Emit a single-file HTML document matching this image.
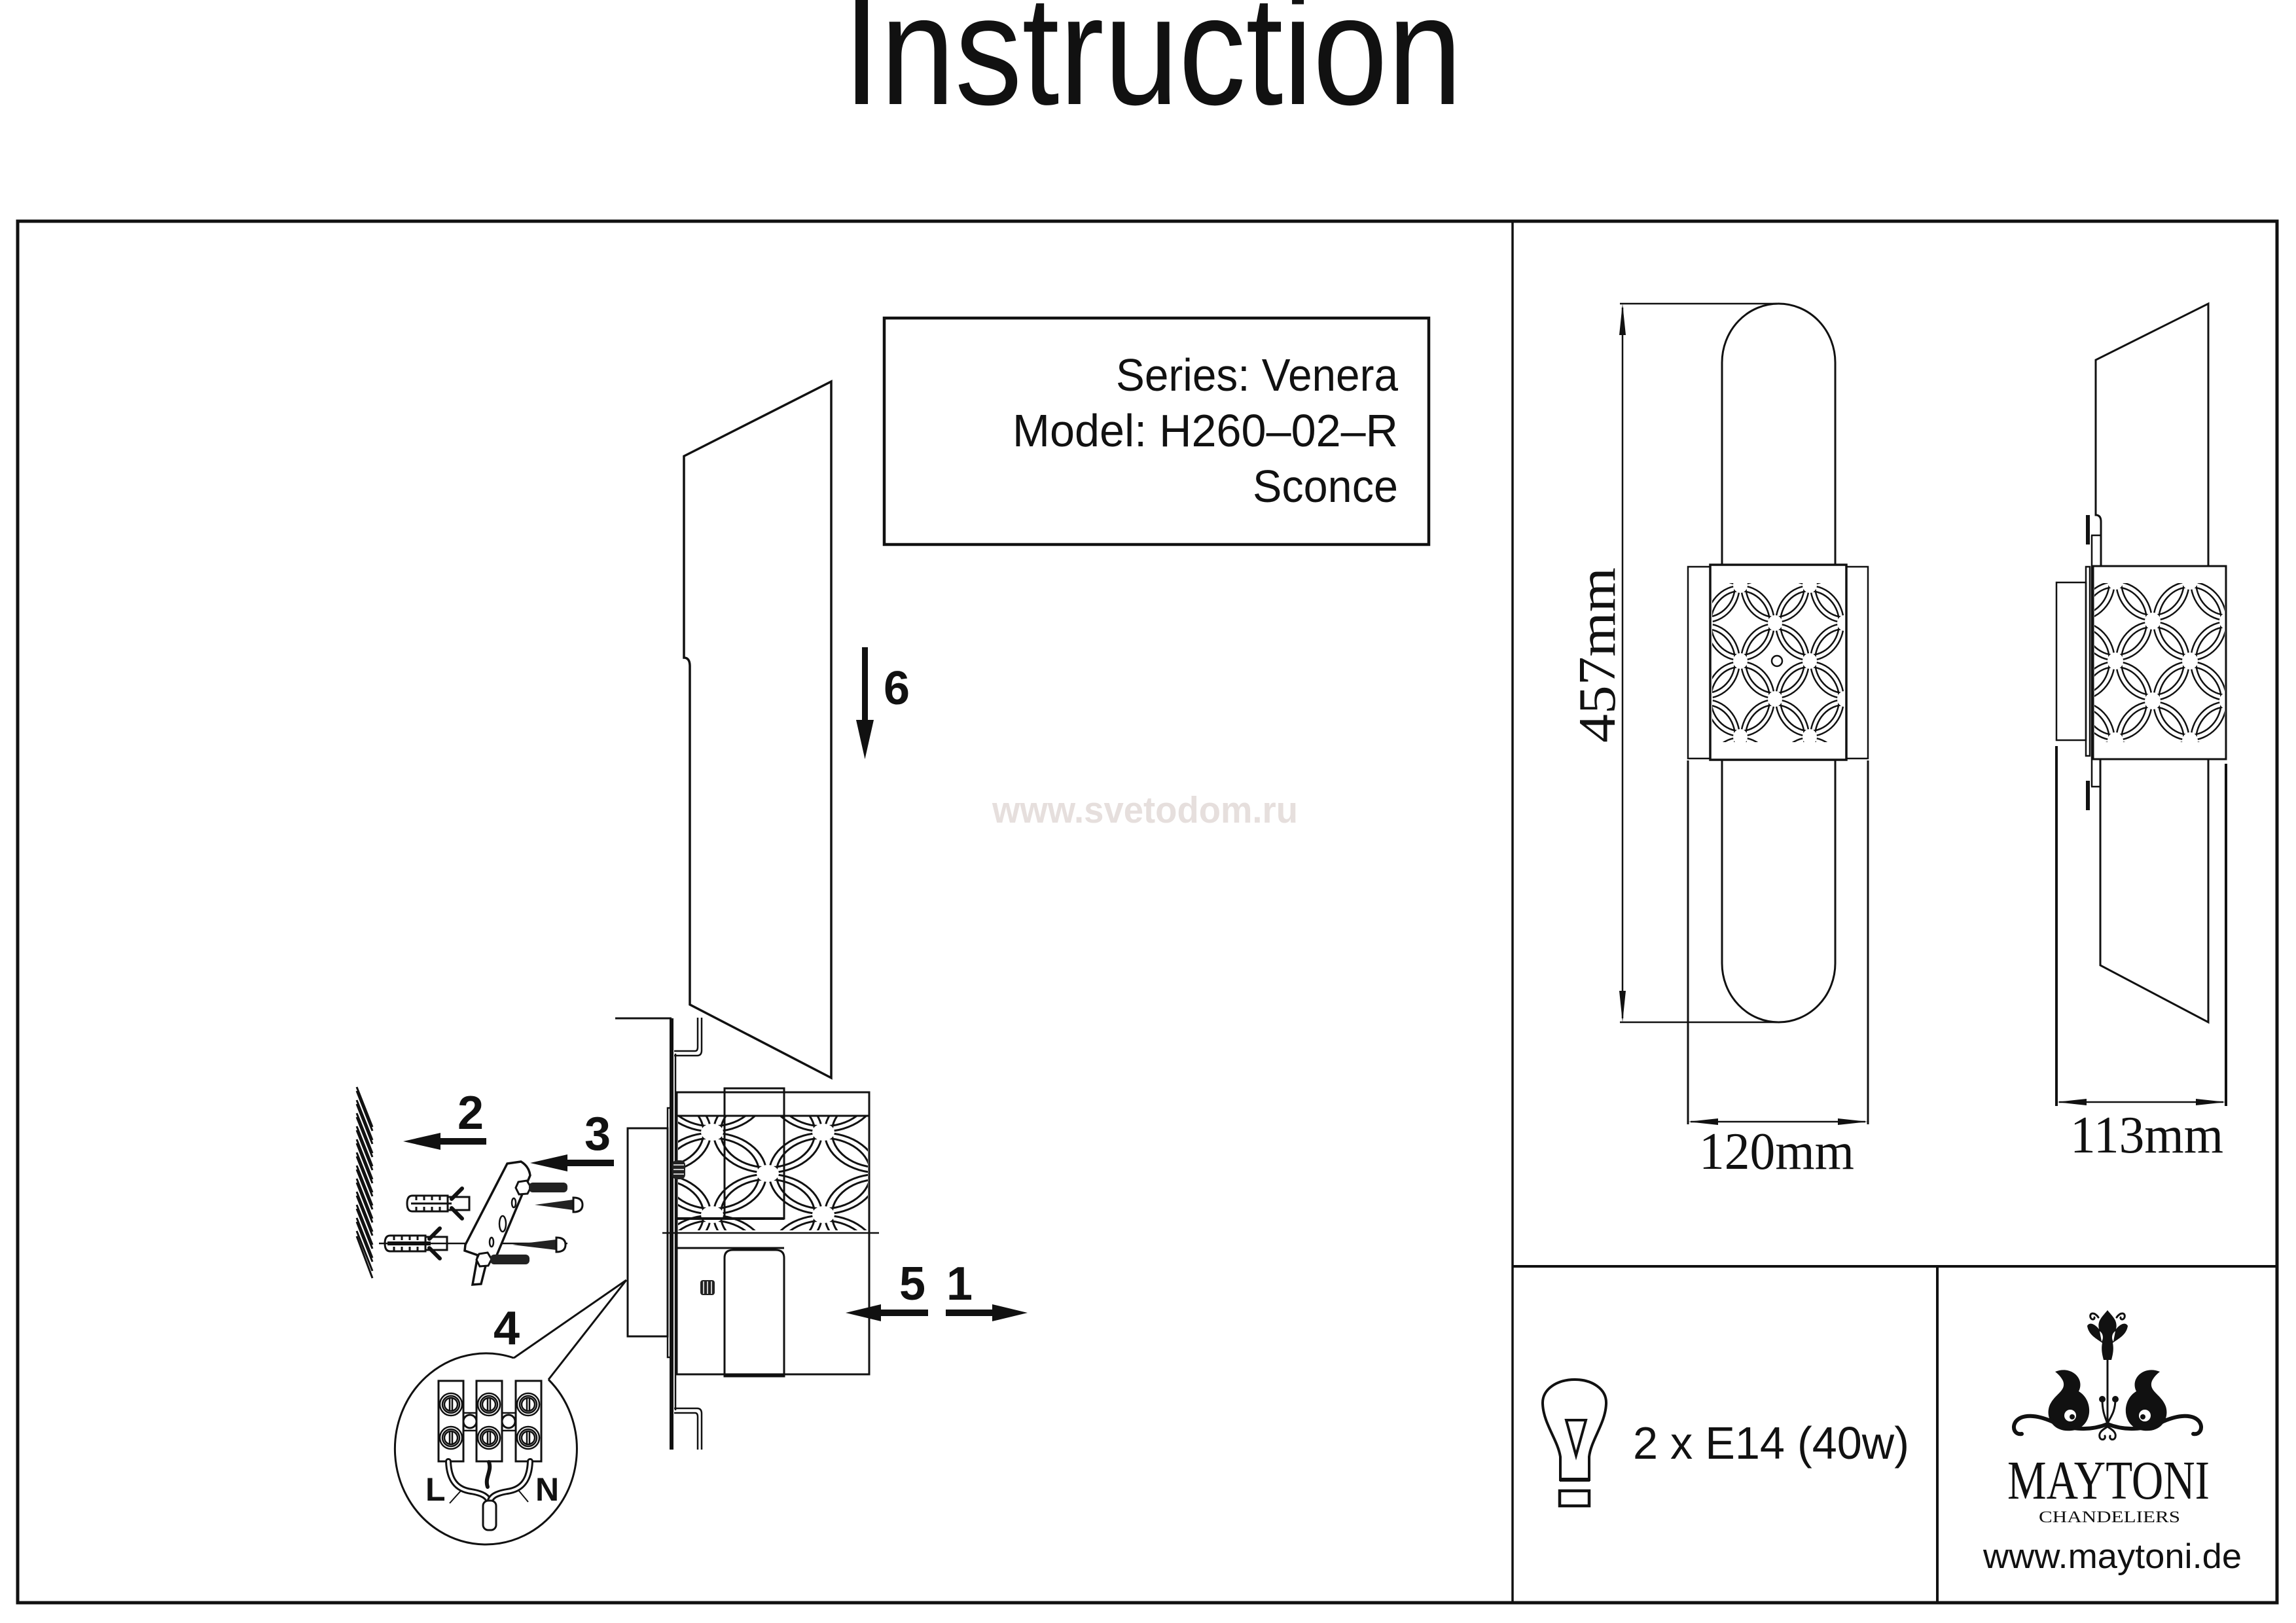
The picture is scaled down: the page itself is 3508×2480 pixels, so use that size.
<!DOCTYPE html>
<html><head><meta charset="utf-8"><style>
html,body{margin:0;padding:0;background:#fff;}
svg{display:block;}
text{font-family:"Liberation Sans",Arial,sans-serif;}
.serif{font-family:"Liberation Serif","Times New Roman",serif;}
</style></head><body>
<svg xmlns="http://www.w3.org/2000/svg" width="3508" height="2480" viewBox="0 0 3508 2480">
<defs>
<pattern id="pL" patternUnits="userSpaceOnUse" x="1088" y="1793" width="170" height="126">
 <g fill="none" stroke="#111" stroke-width="3">
  <ellipse cx="0" cy="0" rx="83" ry="62"/><ellipse cx="170" cy="0" rx="83" ry="62"/><ellipse cx="0" cy="126" rx="83" ry="62"/><ellipse cx="170" cy="126" rx="83" ry="62"/><ellipse cx="85" cy="63" rx="83" ry="62"/>
  <ellipse cx="0" cy="0" rx="72" ry="54"/><ellipse cx="170" cy="0" rx="72" ry="54"/><ellipse cx="0" cy="126" rx="72" ry="54"/><ellipse cx="170" cy="126" rx="72" ry="54"/><ellipse cx="85" cy="63" rx="72" ry="54"/>
 </g>
 <g fill="#fff"><ellipse cx="85" cy="0" rx="17" ry="13"/><ellipse cx="0" cy="63" rx="17" ry="13"/><ellipse cx="170" cy="63" rx="17" ry="13"/><ellipse cx="85" cy="126" rx="17" ry="13"/></g>
</pattern>
<pattern id="pF" patternUnits="userSpaceOnUse" x="2712" y="1010" width="106" height="116">
 <g fill="none" stroke="#111" stroke-width="2.5">
  <ellipse cx="0" cy="0" rx="52" ry="57"/><ellipse cx="106" cy="0" rx="52" ry="57"/><ellipse cx="0" cy="116" rx="52" ry="57"/><ellipse cx="106" cy="116" rx="52" ry="57"/><ellipse cx="53" cy="58" rx="52" ry="57"/>
  <ellipse cx="0" cy="0" rx="45" ry="49"/><ellipse cx="106" cy="0" rx="45" ry="49"/><ellipse cx="0" cy="116" rx="45" ry="49"/><ellipse cx="106" cy="116" rx="45" ry="49"/><ellipse cx="53" cy="58" rx="45" ry="49"/>
 </g>
 <g fill="#fff"><ellipse cx="53" cy="0" rx="11" ry="12"/><ellipse cx="0" cy="58" rx="11" ry="12"/><ellipse cx="106" cy="58" rx="11" ry="12"/><ellipse cx="53" cy="116" rx="11" ry="12"/></g>
</pattern>
<pattern id="pS" patternUnits="userSpaceOnUse" x="3289" y="1010" width="114" height="122">
 <g fill="none" stroke="#111" stroke-width="2.5">
  <ellipse cx="0" cy="0" rx="56" ry="60"/><ellipse cx="114" cy="0" rx="56" ry="60"/><ellipse cx="0" cy="122" rx="56" ry="60"/><ellipse cx="114" cy="122" rx="56" ry="60"/><ellipse cx="57" cy="61" rx="56" ry="60"/>
  <ellipse cx="0" cy="0" rx="48" ry="52"/><ellipse cx="114" cy="0" rx="48" ry="52"/><ellipse cx="0" cy="122" rx="48" ry="52"/><ellipse cx="114" cy="122" rx="48" ry="52"/><ellipse cx="57" cy="61" rx="48" ry="52"/>
 </g>
 <g fill="#fff"><ellipse cx="57" cy="0" rx="12" ry="13"/><ellipse cx="0" cy="61" rx="12" ry="13"/><ellipse cx="114" cy="61" rx="12" ry="13"/><ellipse cx="57" cy="122" rx="12" ry="13"/></g>
</pattern>
</defs>

<!-- Title -->
<text x="1288" y="159" font-size="238" textLength="946" lengthAdjust="spacingAndGlyphs" fill="#111">Instruction</text>

<!-- Frame -->
<rect x="27" y="338" width="3452" height="2111" fill="none" stroke="#111" stroke-width="5"/>
<line x1="2311" y1="338" x2="2311" y2="2449" stroke="#111" stroke-width="3.5"/>
<line x1="2311" y1="1935" x2="3479" y2="1935" stroke="#111" stroke-width="4"/>
<line x1="2960" y1="1935" x2="2960" y2="2449" stroke="#111" stroke-width="4"/>

<!-- Info box -->
<rect x="1351" y="486" width="832" height="346" fill="none" stroke="#111" stroke-width="4.5"/>
<text x="1705" y="597" font-size="70" textLength="431" lengthAdjust="spacingAndGlyphs" fill="#111">Series: Venera</text>
<text x="1547" y="682" font-size="70" textLength="589" lengthAdjust="spacingAndGlyphs" fill="#111">Model: H260–02–R</text>
<text x="1914" y="767" font-size="70" textLength="222" lengthAdjust="spacingAndGlyphs" fill="#111">Sconce</text>

<!-- Watermark -->
<text x="1516" y="1257" font-size="57" font-weight="bold" textLength="467" lengthAdjust="spacingAndGlyphs" fill="#e6dfdd">www.svetodom.ru</text>

<!-- ===== Left assembly drawing ===== -->
<g fill="none" stroke="#111" stroke-width="3.5" stroke-linejoin="miter">
 <path d="M1045,697 L1270,583 L1270,1647 L1054,1535 L1054,1018 Q1054,1005 1045,1005 Z" fill="#fff"/>
 <line x1="940" y1="1556" x2="1026" y2="1556" stroke-width="3"/>
 <line x1="1026" y1="1556" x2="1026" y2="2215" stroke-width="6"/>
 <line x1="1032" y1="1610" x2="1032" y2="2155" stroke-width="2.5"/>
 <path d="M1030,1606 L1062,1606 Q1066,1606 1066,1600 L1066,1555" stroke-width="2.5"/>
 <path d="M1030,1613 L1065,1613 Q1072,1613 1072,1605 L1072,1555" stroke-width="2.5"/>
 <path d="M1030,2152 L1065,2152 Q1072,2152 1072,2160 L1072,2215" stroke-width="2.5"/>
 <path d="M1030,2159 L1062,2159 Q1066,2159 1066,2165 L1066,2215" stroke-width="2.5"/>
 <rect x="959" y="1724" width="61" height="318" stroke-width="3"/>
 <rect x="1020" y="1693" width="6" height="381" stroke-width="2.5"/>
 <rect x="1034" y="1669" width="294" height="431" fill="#fff" stroke-width="3"/>
</g>
<rect x="1036" y="1705" width="290" height="175" fill="url(#pL)"/>
<g fill="none" stroke="#111" stroke-width="3">
 <line x1="1034" y1="1705" x2="1328" y2="1705"/>
 <rect x="1107" y="1663" width="91" height="199" />
 <line x1="1034" y1="1862" x2="1198" y2="1862" stroke-width="4"/>
 <line x1="1034" y1="1907" x2="1198" y2="1907"/>
 <path d="M1107,2103 L1107,1922 Q1107,1910 1120,1910 L1185,1910 Q1198,1910 1198,1922 L1198,2103 Z" fill="#fff"/>
 <line x1="1012" y1="1884" x2="1343" y2="1884" stroke-width="2.5"/>
 <rect x="1034" y="1669" width="294" height="431" stroke-width="3"/>
</g>
<rect x="1027" y="1773" width="20" height="29" rx="7" fill="#222"/>
<g stroke="#fff" stroke-width="1.5"><line x1="1029" y1="1780" x2="1045" y2="1780"/><line x1="1029" y1="1787" x2="1045" y2="1787"/><line x1="1029" y1="1794" x2="1045" y2="1794"/></g>
<rect x="1070" y="1956" width="22" height="23" rx="4" fill="#222"/>
<g stroke="#fff" stroke-width="1.5"><line x1="1075" y1="1958" x2="1075" y2="1977"/><line x1="1081" y1="1958" x2="1081" y2="1977"/><line x1="1087" y1="1958" x2="1087" y2="1977"/></g>

<!-- wall hatch -->
<g stroke="#111" stroke-width="3">
 <line x1="545" y1="1661" x2="569" y2="1722"/><line x1="545" y1="1667" x2="569" y2="1728"/>
 <line x1="545" y1="1681" x2="569" y2="1742"/><line x1="545" y1="1687" x2="569" y2="1748"/>
 <line x1="545" y1="1701" x2="569" y2="1762"/><line x1="545" y1="1707" x2="569" y2="1768"/>
 <line x1="545" y1="1721" x2="569" y2="1782"/><line x1="545" y1="1727" x2="569" y2="1788"/>
 <line x1="545" y1="1741" x2="569" y2="1802"/><line x1="545" y1="1747" x2="569" y2="1808"/>
 <line x1="545" y1="1761" x2="569" y2="1822"/><line x1="545" y1="1767" x2="569" y2="1828"/>
 <line x1="545" y1="1781" x2="569" y2="1842"/><line x1="545" y1="1787" x2="569" y2="1848"/>
 <line x1="545" y1="1801" x2="569" y2="1862"/><line x1="545" y1="1807" x2="569" y2="1868"/>
 <line x1="545" y1="1821" x2="569" y2="1882"/><line x1="545" y1="1827" x2="569" y2="1888"/>
 <line x1="545" y1="1841" x2="569" y2="1902"/><line x1="545" y1="1847" x2="569" y2="1908"/>
 <line x1="545" y1="1861" x2="569" y2="1922"/><line x1="545" y1="1867" x2="569" y2="1928"/>
 <line x1="545" y1="1881" x2="569" y2="1942"/><line x1="545" y1="1889" x2="569" y2="1953"/>
</g>

<!-- arrows -->
<g fill="#111">
 <polygon points="616,1744 673,1731 673,1757"/><rect x="670" y="1739" width="73" height="10"/>
 <polygon points="810,1777 867,1764 867,1790"/><rect x="864" y="1772" width="74" height="10"/>
 <polygon points="1292,2006 1346,1993 1346,2019"/><rect x="1343" y="2001" width="75" height="10"/>
 <polygon points="1570,2006 1516,1993 1516,2019"/><rect x="1445" y="2001" width="74" height="10"/>
 <rect x="1317" y="989" width="9" height="113"/><polygon points="1308,1100 1335,1100 1321.5,1160"/>
</g>
<g font-size="72" font-weight="bold" fill="#111">
 <text x="699" y="1725">2</text>
 <text x="893" y="1757">3</text>
 <text x="754" y="2054">4</text>
 <text x="1374" y="1986">5</text>
 <text x="1446" y="1986">1</text>
 <text x="1350" y="1076">6</text>
</g>

<!-- dowels -->
<g fill="#fff" stroke="#111" stroke-width="3">
 <path d="M684,1829 L717,1829 L717,1849 L684,1849"/>
 <path d="M690,1832 L706,1816 M690,1846 L706,1862" stroke-width="6" stroke-linecap="round"/>
 <path d="M630,1827 L684,1827 L684,1851 L630,1851 Q622,1851 622,1839 Q622,1827 630,1827 Z"/>
 <path d="M636,1827 v7 M648,1827 v7 M660,1827 v7 M672,1827 v7 M636,1851 v-7 M648,1851 v-7 M660,1851 v-7 M672,1851 v-7" stroke-width="3"/>
 <line x1="628" y1="1839" x2="690" y2="1839" stroke-width="3"/>
 <path d="M650,1890 L683,1890 L683,1910 L650,1910"/>
 <path d="M656,1893 L672,1877 M656,1907 L672,1923" stroke-width="6" stroke-linecap="round"/>
 <path d="M596,1888 L650,1888 L650,1912 L596,1912 Q588,1912 588,1900 Q588,1888 596,1888 Z"/>
 <path d="M602,1888 v7 M614,1888 v7 M626,1888 v7 M638,1888 v7 M602,1912 v-7 M614,1912 v-7 M626,1912 v-7 M638,1912 v-7"/>
</g>
<rect x="592" y="1897" width="66" height="6" fill="#111"/>
<line x1="579" y1="1900" x2="867" y2="1900" stroke="#111" stroke-width="2.5"/>
<!-- mounting plate -->
<path d="M775,1778 L796,1775 Q808,1782 810,1796 L756,1925 L744,1926 L735,1962 L722,1963 L730,1918 L710,1911 L711,1902 Z" fill="#fff" stroke="#111" stroke-width="3.5"/>
<ellipse cx="768" cy="1870" rx="5" ry="12" fill="none" stroke="#111" stroke-width="2.5"/>
<ellipse cx="785" cy="1838" rx="3" ry="7" fill="none" stroke="#111" stroke-width="2.5"/>
<ellipse cx="751" cy="1898" rx="3" ry="7" fill="none" stroke="#111" stroke-width="2.5"/>
<!-- bolts -->
<polygon points="792,1806 805,1804 811,1814 806,1824 793,1825 788,1815" fill="#fff" stroke="#111" stroke-width="3"/>
<rect x="808" y="1807" width="59" height="15" rx="6" fill="#222"/>
<polygon points="732,1916 745,1914 751,1924 746,1934 733,1935 728,1925" fill="#fff" stroke="#111" stroke-width="3"/>
<rect x="749" y="1917" width="60" height="15" rx="6" fill="#222"/>
<!-- screws -->
<path d="M817,1841 L876,1833 L876,1849 Z" fill="#222"/><path d="M876,1830 Q890,1830 890,1841 Q890,1852 876,1852 Z" fill="#fff" stroke="#111" stroke-width="3"/>
<path d="M783,1902 L850,1894 L850,1910 Z" fill="#222"/><path d="M850,1891 Q864,1891 864,1902 Q864,1913 850,1913 Z" fill="#fff" stroke="#111" stroke-width="3"/>

<!-- wiring callout -->
<g fill="none" stroke="#111" stroke-width="3">
 <path d="M838,2108 A139,146 0 1 1 785,2075"/>
 <line x1="785" y1="2075" x2="957" y2="1956"/>
 <line x1="838" y1="2108" x2="957" y2="1956"/>
 <rect x="670" y="2110" width="38" height="123" fill="#fff"/>
 <rect x="728" y="2110" width="39" height="123" fill="#fff"/>
 <rect x="788" y="2110" width="39" height="123" fill="#fff"/>
 <path d="M708,2159 L728,2159 M708,2186 L728,2186 M767,2159 L788,2159 M767,2186 L788,2186" stroke-width="2.5"/>
 <circle cx="718" cy="2172" r="10"/><circle cx="777" cy="2172" r="10"/>
</g>
<g fill="#fff" stroke="#111" stroke-width="2.5">
 <circle cx="689" cy="2146" r="17"/><circle cx="689" cy="2146" r="13"/><circle cx="689" cy="2146" r="10"/>
 <circle cx="747" cy="2146" r="17"/><circle cx="747" cy="2146" r="13"/><circle cx="747" cy="2146" r="10"/>
 <circle cx="807" cy="2146" r="17"/><circle cx="807" cy="2146" r="13"/><circle cx="807" cy="2146" r="10"/>
 <circle cx="689" cy="2197" r="17"/><circle cx="689" cy="2197" r="13"/><circle cx="689" cy="2197" r="10"/>
 <circle cx="747" cy="2197" r="17"/><circle cx="747" cy="2197" r="13"/><circle cx="747" cy="2197" r="10"/>
 <circle cx="807" cy="2197" r="17"/><circle cx="807" cy="2197" r="13"/><circle cx="807" cy="2197" r="10"/>
 <path d="M687,2136 v20 M691,2136 v20 M745,2136 v20 M749,2136 v20 M805,2136 v20 M809,2136 v20 M687,2187 v20 M691,2187 v20 M745,2187 v20 M749,2187 v20 M805,2187 v20 M809,2187 v20" fill="none"/>
</g>
<g fill="none" stroke-linecap="round">
 <path d="M685,2233 C686,2262 698,2276 720,2279 C738,2282 746,2287 748,2297" stroke="#111" stroke-width="10"/>
 <path d="M685,2233 C686,2262 698,2276 720,2279 C738,2282 746,2287 748,2297" stroke="#fff" stroke-width="4"/>
 <path d="M810,2233 C809,2262 797,2276 775,2279 C757,2282 749,2287 748,2297" stroke="#111" stroke-width="10"/>
 <path d="M810,2233 C809,2262 797,2276 775,2279 C757,2282 749,2287 748,2297" stroke="#fff" stroke-width="4"/>
 <path d="M747,2234 C752,2248 740,2258 745,2272" stroke="#111" stroke-width="6"/>
</g>
<rect x="738" y="2293" width="20" height="45" rx="8" fill="#fff" stroke="#111" stroke-width="3"/>
<line x1="687" y1="2297" x2="705" y2="2277" stroke="#111" stroke-width="2"/>
<line x1="807" y1="2295" x2="792" y2="2277" stroke="#111" stroke-width="2"/>
<text x="650" y="2293" font-size="50" font-weight="bold" fill="#111">L</text>
<text x="818" y="2293" font-size="50" font-weight="bold" fill="#111">N</text>

<!-- ===== Front view ===== -->
<g fill="none" stroke="#111" stroke-width="3">
 <rect x="2631" y="464" width="173" height="1098" rx="87" ry="90"/>
 <line x1="2475" y1="464" x2="2715" y2="464" stroke-width="2.5"/>
 <line x1="2475" y1="1562" x2="2715" y2="1562" stroke-width="2.5"/>
 <line x1="2479" y1="470" x2="2479" y2="1556" stroke-width="2.5"/>
 <line x1="2579" y1="1162" x2="2579" y2="1718" stroke-width="3"/>
 <line x1="2854" y1="1162" x2="2854" y2="1718" stroke-width="3"/>
 <line x1="2583" y1="1714" x2="2850" y2="1714" stroke-width="2.5"/>
</g>
<g fill="#111">
 <polygon points="2479,464 2474,512 2484,512"/>
 <polygon points="2479,1562 2474,1514 2484,1514"/>
 <polygon points="2579,1714 2625,1709 2625,1719"/>
 <polygon points="2854,1714 2808,1709 2808,1719"/>
</g>
<rect x="2579" y="866" width="275" height="293" fill="#fff" stroke="#111" stroke-width="2.5"/>
<rect x="2613" y="863" width="208" height="298" fill="#fff" stroke="#111" stroke-width="3.5"/>
<rect x="2616" y="891" width="202" height="243" fill="url(#pF)"/>
<circle cx="2715" cy="1010" r="8" fill="#fff" stroke="#111" stroke-width="2.5"/>
<text class="serif" transform="translate(2467,1135) rotate(-90)" font-size="80" textLength="268" lengthAdjust="spacingAndGlyphs" fill="#111">457mm</text>
<text class="serif" x="2596" y="1786" font-size="80" textLength="237" lengthAdjust="spacingAndGlyphs" fill="#111">120mm</text>

<!-- ===== Side view ===== -->
<g fill="none" stroke="#111" stroke-width="3">
 <path d="M3210,867 L3210,797 Q3210,787 3202,787 L3202,550 L3374,464 L3374,1562 L3209,1475 L3209,1160" fill="#fff"/>
 <line x1="3195" y1="818" x2="3210" y2="818" stroke-width="2.5"/>
 <line x1="3195" y1="1202" x2="3210" y2="1202" stroke-width="2.5"/>
 <line x1="3196" y1="818" x2="3196" y2="1202" stroke-width="2.5"/>
 <rect x="3142" y="890" width="45" height="241" stroke-width="2.5"/>
 <rect x="3187" y="866" width="6" height="289" stroke-width="2.5"/>
 <line x1="3142" y1="1140" x2="3142" y2="1690" stroke-width="4"/>
 <line x1="3401" y1="1167" x2="3401" y2="1690" stroke-width="4"/>
 <line x1="3146" y1="1684" x2="3397" y2="1684" stroke-width="2.5"/>
</g>
<g fill="#111">
 <rect x="3187" y="787" width="6" height="45"/>
 <rect x="3187" y="1193" width="6" height="45"/>
 <polygon points="3142,1684 3188,1679 3188,1689"/>
 <polygon points="3401,1684 3355,1679 3355,1689"/>
</g>
<rect x="3198" y="865" width="203" height="295" fill="#fff" stroke="#111" stroke-width="3"/>
<rect x="3200" y="891" width="199" height="243" fill="url(#pS)"/>
<text class="serif" x="3163" y="1761" font-size="80" textLength="234" lengthAdjust="spacingAndGlyphs" fill="#111">113mm</text>

<!-- ===== Bulb box ===== -->
<path d="M2384,2261 L2384,2226 C2380,2200 2358,2175 2357,2145 C2356,2122 2380,2108 2406,2108 C2432,2108 2455,2122 2454,2145 C2453,2175 2431,2200 2428,2226 L2428,2261 Z" fill="none" stroke="#111" stroke-width="4"/>
<line x1="2383" y1="2261" x2="2429" y2="2261" stroke="#111" stroke-width="6"/>
<rect x="2383" y="2278" width="45" height="23" fill="none" stroke="#111" stroke-width="4.5"/>
<polygon points="2393,2170 2423,2170 2408,2224" fill="none" stroke="#111" stroke-width="4"/>
<text x="2495" y="2229" font-size="70" textLength="422" lengthAdjust="spacingAndGlyphs" fill="#111">2 x E14 (40w)</text>

<!-- ===== Logo ===== -->
<g fill="#111">
 <path d="M3220,2002 C3228,2012 3236,2018 3233,2031 C3240,2022 3248,2020 3251,2026 C3249,2040 3236,2046 3228,2052 C3230,2062 3228,2070 3226,2078 L3214,2078 C3212,2070 3210,2062 3212,2052 C3204,2046 3191,2040 3189,2026 C3192,2020 3200,2022 3207,2031 C3204,2018 3212,2012 3220,2002 Z"/>
 <circle cx="3212" cy="2138" r="5"/><circle cx="3232" cy="2138" r="5"/>
 <path d="M3140,2096 C3164,2086 3186,2106 3176,2126 C3200,2140 3198,2182 3165,2186 C3138,2189 3125,2168 3131,2149 C3138,2130 3158,2126 3152,2110 C3149,2104 3145,2100 3140,2096 Z"/>
 <path d="M3300,2096 C3276,2086 3254,2106 3264,2126 C3240,2140 3242,2182 3275,2186 C3302,2189 3315,2168 3309,2149 C3302,2130 3282,2126 3288,2110 C3291,2104 3295,2100 3300,2096 Z"/>
</g>
<g fill="none" stroke="#111" stroke-linecap="round">
 <line x1="3220" y1="2076" x2="3220" y2="2172" stroke-width="3"/>
 <path d="M3220,2176 C3195,2186 3165,2186 3135,2172 C3112,2162 3090,2160 3080,2172 C3073,2182 3079,2193 3089,2191" stroke-width="6"/>
 <path d="M3220,2176 C3245,2186 3275,2186 3305,2172 C3328,2162 3350,2160 3360,2172 C3367,2182 3361,2193 3351,2191" stroke-width="6"/>
 <path d="M3212,2138 C3212,2160 3218,2168 3220,2176 M3232,2138 C3232,2160 3222,2168 3220,2176" stroke-width="3"/>
 <path d="M3220,2180 C3214,2184 3206,2188 3208,2196 C3210,2202 3218,2200 3216,2194 M3220,2180 C3226,2184 3234,2188 3232,2196 C3230,2202 3222,2200 3224,2194" stroke-width="3"/>
 <path d="M3206,2013 C3200,2004 3192,2006 3194,2013 C3196,2018 3201,2016 3200,2013 M3234,2013 C3240,2004 3248,2006 3246,2013 C3244,2018 3239,2016 3240,2013" stroke-width="3"/>
</g>
<g fill="#fff">
 <circle cx="3163" cy="2163" r="9"/><circle cx="3277" cy="2163" r="9"/>
 <path d="M3208,2034 C3214,2038 3214,2046 3211,2050 Z M3232,2034 C3226,2038 3226,2046 3229,2050 Z"/>
</g>
<g fill="#111"><circle cx="3166" cy="2165" r="4"/><circle cx="3274" cy="2165" r="4"/></g>
<text class="serif" x="3067" y="2290" font-size="84" textLength="309" lengthAdjust="spacingAndGlyphs" fill="#111">MAYTONI</text>
<text class="serif" x="3115" y="2326" font-size="25" textLength="216" lengthAdjust="spacingAndGlyphs" fill="#111">CHANDELIERS</text>
<text x="3030" y="2396" font-size="53" textLength="395" lengthAdjust="spacingAndGlyphs" fill="#111">www.maytoni.de</text>
</svg>
</body></html>
